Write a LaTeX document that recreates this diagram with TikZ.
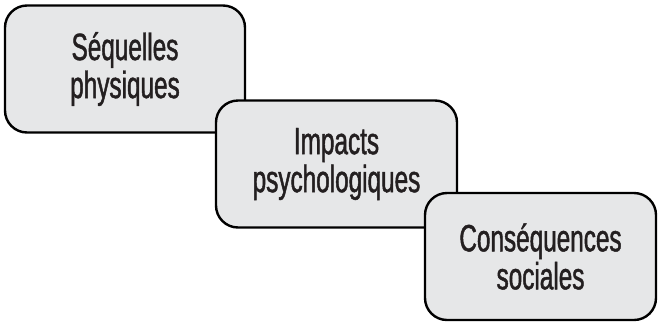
\documentclass[tikz,border=0pt]{standalone}
\usepackage{fontspec}
\newfontfamily\boxfont{Liberation Sans}[FakeStretch=0.64, FakeBold=1.2]
\definecolor{boxgray}{HTML}{E6E7E8}
\definecolor{ink}{HTML}{231F20}
\newcommand*{\boxtextstyle}{\boxfont\fontsize{38}{38}\selectfont\color{ink}}

\begin{document}
\begin{tikzpicture}[x=1pt, y=-1pt,
  stage/.style = {draw = black, fill = boxgray, line width = 2.4pt,
    rounded corners = 22pt, align = center, inner sep = 0pt,
    minimum height = 127pt, font = \boxtextstyle}]
  \useasboundingbox (0,0) rectangle (658,322);
  \node[stage, minimum width = 240pt] (sequelles) at (125,69)
    {S\'equelles\\physiques};
  \node[stage, minimum width = 241pt] (psycho) at (336.5,164)
    {Impacts\\psychologiques};
  \node[stage, minimum width = 231pt] (sociales) at (540.5,256.5)
    {Cons\'equences\\sociales};
\end{tikzpicture}
\end{document}
